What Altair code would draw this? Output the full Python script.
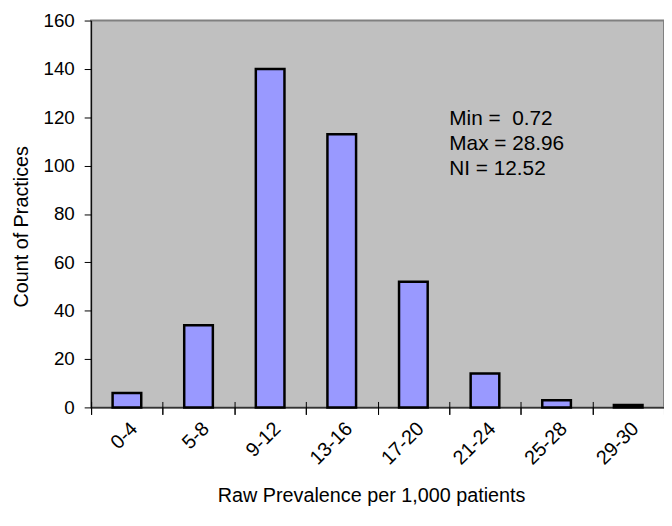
import altair as alt
import pandas as pd

categories = ["0-4", "5-8", "9-12", "13-16", "17-20", "21-24", "25-28", "29-30"]
counts = [6, 34, 140, 113, 52, 14, 3, 1]
y_ticks = [0, 20, 40, 60, 80, 100, 120, 140, 160]
stats_lines = ["Min = \u00a00.72", "Max = 28.96", "NI = 12.52"]

FONT = "Liberation Sans"

df = pd.DataFrame({"range": categories, "count": counts})
note_df = pd.DataFrame({"note": ["\n".join(stats_lines)]})

x_scale = alt.Scale(paddingInner=0, paddingOuter=0)

bars = alt.Chart(df).mark_bar(
    width=alt.RelativeBandSize(0.4),
    fill="#9999FF",
    stroke="#000000",
    strokeWidth=2.5,
).encode(
    x=alt.X(
        "range:N",
        sort=categories,
        scale=x_scale,
        axis=alt.Axis(
            orient="bottom",
            title="Raw Prevalence per 1,000 patients",
            labelAngle=-45,
            tickBand="extent",
            tickSize=7,
            labelPadding=4,
            titleX=283,
            titleY=95,
            titleBaseline="alphabetic",
        ),
    ),
    y=alt.Y(
        "count:Q",
        scale=alt.Scale(domain=[0, 160], nice=False),
        axis=alt.Axis(
            values=y_ticks,
            title="Count of Practices",
            grid=False,
            tickSize=7,
            labelPadding=10,
            labelFontSize=19,
            titleX=-64,
            titleY=208,
            titleBaseline="alphabetic",
        ),
    ),
)

# inner half of the cross ticks on the category axis
cross_ticks = alt.Chart(df).mark_point(opacity=0).encode(
    x=alt.X(
        "range:N",
        sort=categories,
        scale=x_scale,
        axis=alt.Axis(
            orient="bottom",
            title=None,
            labels=False,
            domain=False,
            tickBand="extent",
            tickSize=13,
            offset=-6,
        ),
    ),
)

note = alt.Chart(note_df).mark_text(
    align="left",
    baseline="alphabetic",
    lineBreak="\n",
    lineHeight=25,
    fontSize=21,
    font=FONT,
    color="#000000",
).encode(
    x=alt.value(362),
    y=alt.value(106),
    text="note:N",
)

chart = (
    alt.layer(bars, cross_ticks, note)
    .resolve_axis(x="independent")
    .properties(
        width=579,
        height=391,
        autosize=alt.AutoSizeParams(type="none"),
        padding={"left": 84, "top": 10, "right": 0, "bottom": 100},
        background="#FFFFFF",
    )
    .configure_view(fill="#C0C0C0", stroke="#808080", strokeWidth=2)
    .configure_axis(
        labelFont=FONT,
        titleFont=FONT,
        labelFontSize=20,
        titleFontSize=20,
        titleFontWeight="normal",
        labelColor="#000000",
        titleColor="#000000",
        domainColor="#000000",
        tickColor="#000000",
        domainWidth=1,
        tickWidth=1,
    )
)

chart.save("out.html", embed_options={"renderer": "svg", "actions": False})
